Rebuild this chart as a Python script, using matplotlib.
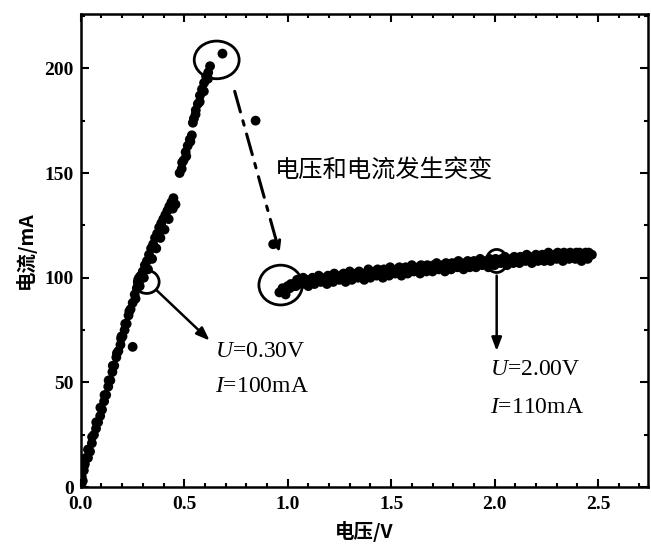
import matplotlib
matplotlib.use("Agg")
import matplotlib.pyplot as plt
from matplotlib.patches import Ellipse
from matplotlib.ticker import MultipleLocator

plt.rcParams["mathtext.fontset"] = "custom"
plt.rcParams["mathtext.it"] = "Liberation Serif:italic"
plt.rcParams["mathtext.rm"] = "Liberation Serif"

# ---- data ----
rise_u = [0.005, 0.005, 0.01, 0.015, 0.02, 0.025, 0.035, 0.045, 0.054, 0.064, 0.074, 0.084,
          0.094, 0.103, 0.113, 0.123, 0.133, 0.143, 0.153, 0.162, 0.172, 0.182, 0.192,
          0.197, 0.202, 0.212, 0.222, 0.231, 0.241, 0.251, 0.251, 0.261, 0.271, 0.281,
          0.291, 0.300, 0.310, 0.320, 0.330, 0.340, 0.350, 0.359, 0.369, 0.379, 0.389,
          0.399, 0.409, 0.419, 0.428, 0.438, 0.448, 0.458, 0.478, 0.488, 0.497, 0.507,
          0.517, 0.527, 0.537, 0.542, 0.547, 0.556, 0.566, 0.576, 0.586, 0.596, 0.606,
          0.616, 0.625, 0.685]
rise_i = [2, 5, 3, 8, 11, 14, 14, 17, 21, 25, 28, 31,
          34, 37, 41, 44, 48, 51, 55, 58, 62, 65, 68,
          72, 72, 75, 78, 82, 85, 67, 88, 92, 95, 98,
          101, 103, 106, 108, 111, 114, 116, 119, 121, 124, 126,
          128, 130, 132, 134, 136, 138, 135, 150, 152, 156, 160,
          163, 166, 168, 174, 176, 180, 183, 187, 190, 193, 196,
          198, 201, 207]

rise2_u = [0.015, 0.035, 0.055, 0.075, 0.095, 0.115, 0.135, 0.155, 0.175, 0.195, 0.215,
           0.235, 0.265, 0.285, 0.305, 0.325, 0.345, 0.365, 0.385, 0.405, 0.425, 0.445,
           0.49, 0.51, 0.53, 0.555, 0.575, 0.595, 0.615]
rise2_i = [10, 18, 24, 31, 38, 44, 51, 58, 64, 71, 78,
           84, 90, 96, 100, 104, 109, 114, 119, 123, 128, 133,
           155, 158, 165, 178, 184, 189, 195]

jump_u = [0.845, 0.93]
jump_i = [175, 116]

flat_u = [0.96, 0.975, 0.99, 1.00, 1.015, 1.03, 1.045, 1.06, 1.075, 1.09, 1.105, 1.12,
          1.135, 1.15, 1.165, 1.18, 1.195, 1.21, 1.225, 1.24, 1.255, 1.27, 1.285, 1.30,
          1.315, 1.33, 1.345, 1.36, 1.375, 1.39, 1.405, 1.42, 1.435, 1.45, 1.465, 1.48,
          1.495, 1.51, 1.525, 1.54, 1.555, 1.57, 1.585, 1.60, 1.615, 1.63, 1.645, 1.66,
          1.675, 1.69, 1.705, 1.72, 1.735, 1.75, 1.765, 1.78, 1.795, 1.81, 1.825, 1.84,
          1.855, 1.87, 1.885, 1.90, 1.915, 1.93, 1.945, 1.96, 1.975, 1.99, 2.005, 2.02,
          2.035, 2.05, 2.065, 2.08, 2.095, 2.11, 2.125, 2.14, 2.155, 2.17, 2.185, 2.20,
          2.215, 2.23, 2.245, 2.26, 2.275, 2.29, 2.305, 2.32, 2.335, 2.35, 2.365, 2.38,
          2.395, 2.41, 2.425, 2.44, 2.455, 2.47]
flat_i = [93, 95, 92, 96, 97, 96, 99, 98, 100, 99, 98, 100,
          99, 101, 100, 99, 101, 100, 102, 100, 101, 102, 101, 103,
          101, 102, 103, 101, 102, 104, 102, 103, 104, 102, 104, 103,
          105, 103, 104, 105, 103, 105, 104, 106, 104, 105, 106, 104,
          106, 105, 106, 107, 105, 106, 107, 106, 107, 106, 108, 107,
          106, 108, 107, 108, 107, 109, 108, 107, 109, 108, 109, 108,
          109, 110, 108, 109, 110, 109, 110, 109, 111, 110, 109, 111,
          110, 111, 110, 112, 110, 111, 112, 110, 112, 111, 112, 111,
          112, 112, 111, 112, 112, 111]

flat2_u = [0.98, 1.01, 1.04, 1.07, 1.10, 1.13, 1.16, 1.19, 1.22, 1.25, 1.28, 1.31, 1.34,
           1.37, 1.40, 1.43, 1.46, 1.49, 1.52, 1.55, 1.58, 1.61, 1.64, 1.67, 1.70, 1.73,
           1.76, 1.79, 1.82, 1.85, 1.88, 1.91, 1.94, 1.97, 2.00, 2.03, 2.06, 2.09, 2.12,
           2.15, 2.18, 2.21, 2.24, 2.27, 2.30, 2.33, 2.36, 2.39, 2.42, 2.45]
flat2_i = [94, 95, 96, 97, 96, 97, 98, 97, 98, 99, 98, 99, 100,
           99, 100, 101, 100, 101, 102, 101, 102, 103, 102, 103, 103, 104,
           103, 104, 105, 104, 105, 105, 106, 105, 106, 107, 106, 107, 107,
           108, 107, 108, 108, 108, 109, 108, 109, 109, 108, 109]

x_ticks = [0.0, 0.5, 1.0, 1.5, 2.0, 2.5]
x_ticklabels = ["0.0", "0.5", "1.0", "1.5", "2.0", "2.5"]
y_ticks = [0, 50, 100, 150, 200]
y_ticklabels = ["0", "50", "100", "150", "200"]

cjk = ["Noto Sans CJK SC", "DejaVu Sans"]
serif = ["Liberation Serif", "DejaVu Serif"]

fig = plt.figure(figsize=(6.51, 5.53), dpi=100)
ax = fig.add_axes([0.124, 0.119, 0.871, 0.856])

ms = 50
for uu, ii in [(rise_u, rise_i), (rise2_u, rise2_i), (jump_u, jump_i),
               (flat_u, flat_i), (flat2_u, flat2_i)]:
    ax.scatter(uu, ii, s=ms, c="black", edgecolors="none", zorder=3)

ax.set_xlim(0, 2.74)
ax.set_ylim(0, 226)

ax.set_xticks(x_ticks)
ax.set_xticklabels(x_ticklabels)
ax.set_yticks(y_ticks)
ax.set_yticklabels(y_ticklabels)
ax.xaxis.set_minor_locator(MultipleLocator(0.1))
ax.yaxis.set_minor_locator(MultipleLocator(25))
ax.tick_params(which="both", direction="in", top=True, right=True, width=1.5, color="black")
ax.tick_params(which="major", length=6)
ax.tick_params(which="minor", length=3)
for lab in ax.get_xticklabels() + ax.get_yticklabels():
    lab.set_fontfamily(serif)
    lab.set_fontweight("bold")
    lab.set_fontsize(14)
ax.tick_params(axis="x", pad=6)
ax.tick_params(axis="y", pad=5)
for sp in ax.spines.values():
    sp.set_linewidth(1.8)

ax.set_xlabel("电压/V", family=cjk, fontsize=14, fontweight="bold", labelpad=6)
ax.set_ylabel("电流/mA", family=cjk, fontsize=14, fontweight="bold", labelpad=6)

# circles
for (cx, cy, w, h) in [(0.657, 204, 0.217, 18), (0.966, 96.5, 0.21, 19),
                       (0.319, 98, 0.12, 11), (2.01, 108, 0.10, 11)]:
    ax.add_patch(Ellipse((cx, cy), w, h, fill=False, edgecolor="black", lw=2.0, zorder=4))

# dash-dot arrow
ax.annotate("", xy=(0.961, 112), xytext=(0.744, 189),
            arrowprops=dict(arrowstyle="-|>,head_length=0.6,head_width=0.25",
                            color="black", lw=2.2, linestyle=(0, (7, 3, 1.5, 3)),
                            shrinkA=0, shrinkB=0))
ax.text(0.937, 151, "电压和电流发生突变", family=cjk, fontsize=17.5, va="center", ha="left")

# arrows to labels
ax.annotate("", xy=(0.623, 70), xytext=(0.367, 94),
            arrowprops=dict(arrowstyle="-|>,head_length=0.8,head_width=0.3",
                            color="black", lw=1.8, shrinkA=0, shrinkB=0))
ax.annotate("", xy=(2.01, 65), xytext=(2.01, 101),
            arrowprops=dict(arrowstyle="-|>,head_length=0.8,head_width=0.3",
                            color="black", lw=1.8, shrinkA=0, shrinkB=0))

ax.text(0.647, 65, r"$\mathit{U}$=0.30V", family=serif, fontsize=17, va="center", ha="left")
ax.text(0.647, 48, r"$\mathit{I}$=100mA", family=serif, fontsize=17, va="center", ha="left")
ax.text(1.976, 56, r"$\mathit{U}$=2.00V", family=serif, fontsize=17, va="center", ha="left")
ax.text(1.976, 38, r"$\mathit{I}$=110mA", family=serif, fontsize=17, va="center", ha="left")

fig.savefig("out.png", dpi=100)
